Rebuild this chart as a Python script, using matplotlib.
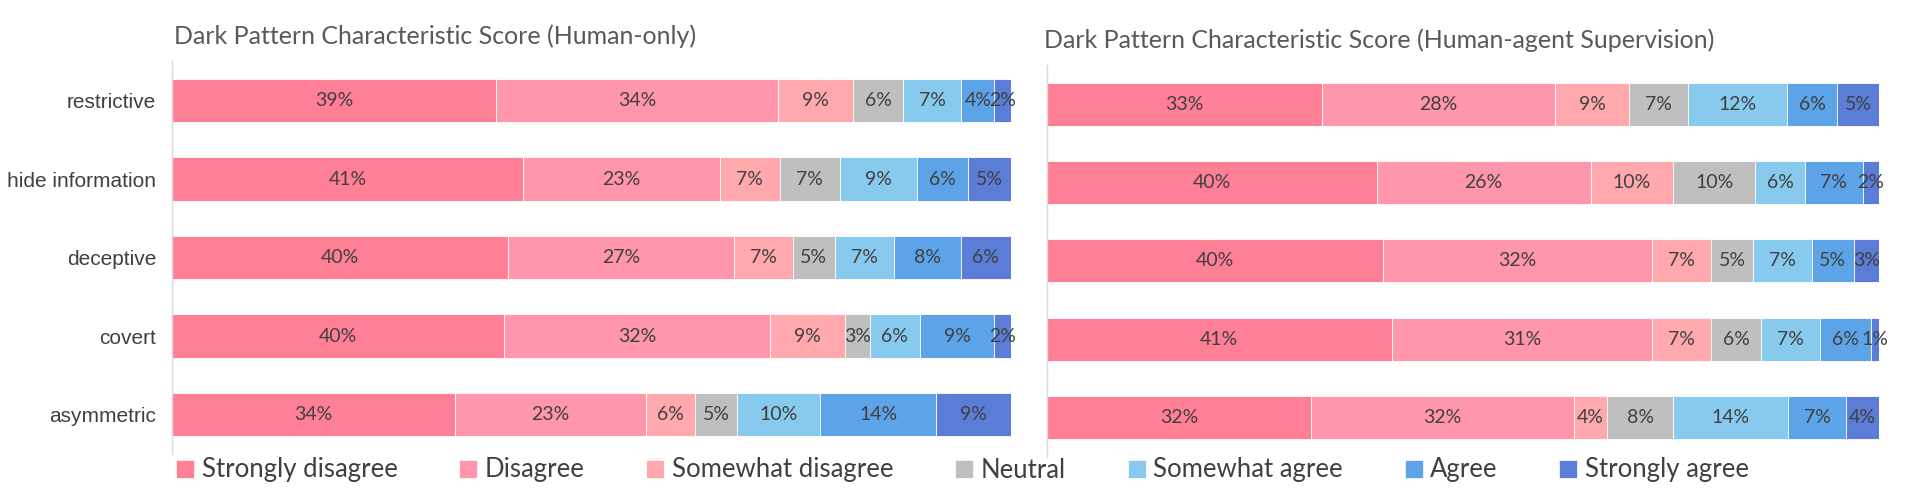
import matplotlib.pyplot as plt
import numpy as np
from matplotlib.patches import Patch

categories = ["restrictive", "hide information", "deceptive", "covert", "asymmetric"]
levels = ["Strongly disagree", "Disagree", "Somewhat disagree", "Neutral",
          "Somewhat agree", "Agree", "Strongly agree"]
colors = ["#FF7F97", "#FF96AB", "#FFA9AF", "#BFBFBF", "#88CAEE", "#5CA3E8", "#5B7CD7"]

# percentages per category, in the order of levels
human_only = [
    [39, 34, 9, 6, 7, 4, 2],
    [41, 23, 7, 7, 9, 6, 5],
    [40, 27, 7, 5, 7, 8, 6],
    [40, 32, 9, 3, 6, 9, 2],
    [34, 23, 6, 5, 10, 14, 9],
]
human_agent = [
    [33, 28, 9, 7, 12, 6, 5],
    [40, 26, 10, 10, 6, 7, 2],
    [40, 32, 7, 5, 7, 5, 3],
    [41, 31, 7, 6, 7, 6, 1],
    [32, 32, 4, 8, 14, 7, 4],
]

FONT = ["Lato", "DejaVu Sans"]
LABEL_FONT = ["Liberation Sans", "DejaVu Sans"]
TXT = "#404040"

fig = plt.figure(figsize=(19.25, 5.03), dpi=100)
ax1 = fig.add_axes([0.0894, 0.098, 0.4358, 0.780])
ax2 = fig.add_axes([0.5439, 0.092, 0.4322, 0.779])


def draw(ax, data, show_labels):
    vals = np.array(data, dtype=float)
    shares = vals / vals.sum(axis=1, keepdims=True) * 100
    y = np.arange(len(categories))
    left = np.zeros(len(categories))
    for j, lev in enumerate(levels):
        w = shares[:, j]
        ax.barh(y, w, left=left, height=0.55, color=colors[j],
                edgecolor="white", linewidth=0.6)
        for i in range(len(categories)):
            ax.text(left[i] + w[i] / 2, y[i], f"{int(vals[i, j])}%",
                    ha="center", va="center", fontsize=14, color=TXT,
                    family=FONT)
        left += w
    ax.set_xlim(0, 100)
    ax.set_ylim(len(categories) - 0.5, -0.5)
    ax.set_xticks([])
    ax.set_yticks(y)
    if show_labels:
        ax.set_yticklabels(categories, fontsize=15, color=TXT, family=LABEL_FONT)
    else:
        ax.set_yticklabels([])
    ax.tick_params(axis="y", length=0, pad=11.5)
    for s in ["top", "right", "bottom"]:
        ax.spines[s].set_visible(False)
    ax.spines["left"].set_color("#D9D9D9")
    ax.spines["left"].set_linewidth(1.0)


draw(ax1, human_only, True)
draw(ax2, human_agent, False)

fig.text(174 / 1925, 1 - 36 / 503, "Dark Pattern Characteristic Score (Human-only)",
         ha="left", va="center", fontsize=18, color="#595959", family=FONT)
fig.text(1044 / 1925, 1 - 40 / 503,
         "Dark Pattern Characteristic Score (Human-agent Supervision)",
         ha="left", va="center", fontsize=18, color="#595959", family=FONT)

handles = [Patch(facecolor=c, edgecolor="white", linewidth=0.5) for c in colors]
fig.legend(handles, levels, loc="center", bbox_to_anchor=(0.50, 1 - 470 / 503),
           ncol=7, frameon=False, handlelength=0.7, handleheight=0.7,
           handletextpad=0.3, columnspacing=2.4,
           prop={"family": FONT, "size": 18.5}, labelcolor=TXT)

plt.savefig("out.png", dpi=100)
